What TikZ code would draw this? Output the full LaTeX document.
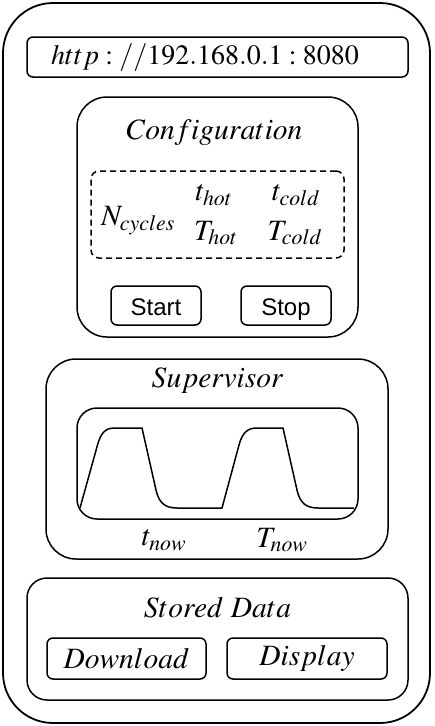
\documentclass[tikz,border=0pt]{standalone}
\usepackage{mathptmx}
\usepackage[no-math]{fontspec}
\setmainfont{Liberation Serif}
\setsansfont{Liberation Sans}
\usepackage{tikz}

\begin{document}
\begin{tikzpicture}[x=1pt, y=-1pt,
    box/.style={draw, line width=1.5pt, inner sep=0pt},
    btn/.style={box, rounded corners=6pt, minimum width=90pt, minimum height=39pt, text height=20pt, text depth=1pt, font=\sffamily\fontsize{24}{28}\selectfont},
    lbl/.style={inner sep=0pt, font=\fontsize{29.5}{34}\selectfont}]
                        \useasboundingbox (0, 0) rectangle (434, 726);

                        \node (outer) at (216.5, 363) [box, line width=1.8pt, rounded corners=50pt, minimum width=427pt, minimum height=720pt] {};

                        \node (urlbox) at (217.5, 57) [box, rounded corners=6pt, minimum width=381pt, minimum height=40pt] {};
                        \node (url) at (205, 58) [lbl, font=\fontsize{28}{32}\selectfont] {$http://192.168.0.1:8080$};

                        \node (config) at (217.5, 217) [box, rounded corners=30pt, minimum width=281pt, minimum height=240pt] {};
                        \node (configtitle) at (214.5, 133) [lbl] {$Configuration$};
                        \node (params) at (217.5, 214.5) [box, dash pattern=on 6pt off 4pt, rounded corners=8pt, minimum width=253pt, minimum height=87pt] {};
                        \node (ncycles) at (138, 221) [lbl] {$N_{cycles}$};
                        \node (thot) at (214, 195) [lbl] {$t_{hot}$};
                        \node (tcold) at (296, 195) [lbl] {$t_{cold}$};
                        \node (Thot) at (216, 233) [lbl] {$T_{hot}$};
                        \node (Tcold) at (295, 233) [lbl] {$T_{cold}$};
                        \node (start) at (156, 305.5) [btn] {Start};
                        \node (stop) at (286, 305.5) [btn] {Stop};

                        \node (super) at (217, 459) [box, rounded corners=30pt, minimum width=342pt, minimum height=200pt] {};
                        \node (supertitle) at (217.5, 381) [lbl] {$Supervisor$};
                        \node (plot) at (217.5, 463.5) [box, rounded corners=20pt, minimum width=281pt, minimum height=111pt] {};
                        \draw[line width=1.5pt, line join=round] (80, 508) -- (97.5, 445)
                            .. controls (101, 432) and (106, 428) .. (115, 428) -- (142, 428) -- (156, 490)
                            .. controls (159, 503) and (165, 508) .. (177, 508) -- (222, 508) -- (239, 445)
                            .. controls (242.5, 432) and (248, 428) .. (257, 428) -- (283, 428) -- (297, 490)
                            .. controls (300, 503) and (306, 508) .. (318, 508) -- (354, 508);
                        \node (tnow) at (164, 540) [lbl] {$t_{now}$};
                        \node (Tnow) at (282, 540) [lbl] {$T_{now}$};

                        \node (stored) at (217.5, 639) [box, rounded corners=20pt, minimum width=381pt, minimum height=122pt] {};
                        \node (storedtitle) at (217.5, 608) [lbl] {$Stored\ Data$};
                        \node (download) at (126.5, 658.5) [box, rounded corners=6pt, minimum width=159pt, minimum height=41pt, font=\fontsize{29.5}{34}\selectfont] {$Download$};
                        \node (display) at (307, 658.5) [box, rounded corners=6pt, minimum width=160pt, minimum height=41pt, font=\fontsize{29.5}{34}\selectfont] {$Display$};
                    \end{tikzpicture}
\end{document}
